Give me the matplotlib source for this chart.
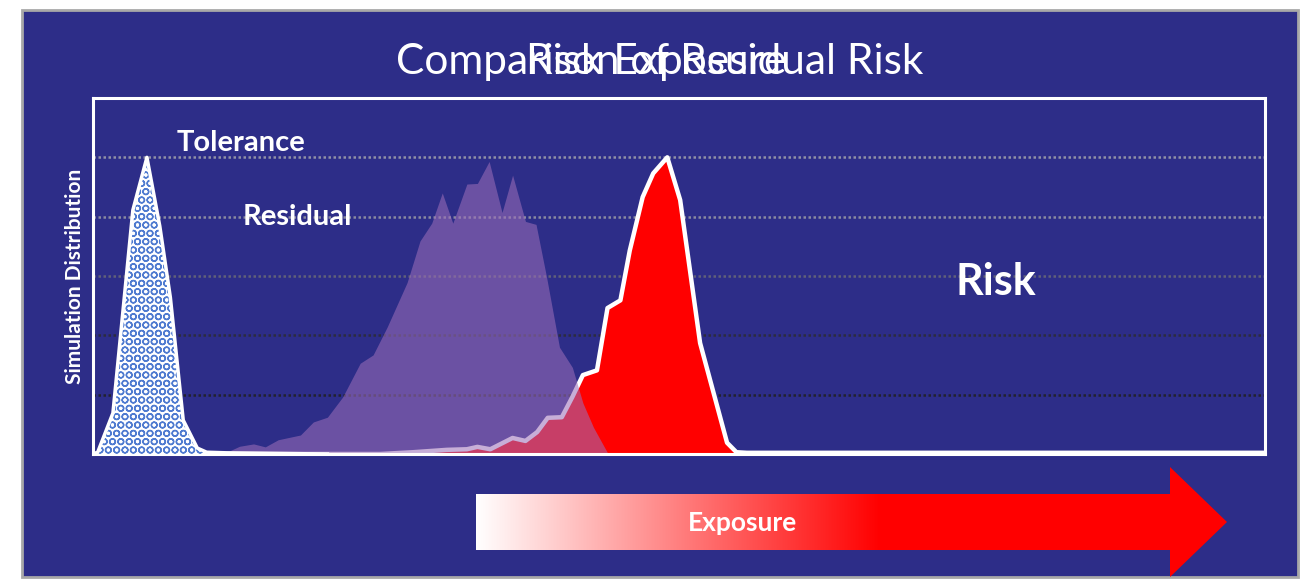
import numpy as np
import matplotlib.pyplot as plt
from matplotlib.patches import Polygon, Rectangle

plt.rcParams['font.family'] = ['Lato', 'DejaVu Sans']
plt.rcParams['hatch.linewidth'] = 1.0

# Rozkłady z symulacji (oś x: ekspozycja 0-100, oś y: liczność)
tol_x = [0.0, 0.4, 1.7, 3.4, 4.6, 5.7, 6.6, 7.7, 8.9, 9.7, 11.4, 20.0]
tol_y = [0.0, 0.03, 0.69, 4.11, 5.0, 3.84, 2.64, 0.57, 0.10, 0.03, 0.02, 0.0]

res_x = [11.4, 12.5, 13.7, 14.7, 15.8, 17.7, 18.8, 20.0, 21.3, 22.8, 23.9, 25.1,
         26.8, 27.9, 28.9, 29.8, 30.7, 31.9, 32.8, 33.8, 34.9, 35.8, 36.9, 37.8,
         38.7, 39.8, 40.9, 41.8, 42.7, 43.9]
res_y = [0.03, 0.13, 0.17, 0.12, 0.24, 0.32, 0.54, 0.62, 0.96, 1.53, 1.67, 2.14,
         2.89, 3.59, 3.89, 4.40, 3.89, 4.55, 4.56, 4.93, 4.07, 4.70, 3.92, 3.87,
         2.98, 1.80, 1.46, 0.86, 0.45, 0.02]

risk_x = [0.0, 24.5, 27.3, 30.2, 31.9, 32.8, 33.9, 34.9, 35.8, 36.9, 37.9, 38.8,
          40.0, 40.9, 41.8, 43.0, 43.9, 45.0, 45.8, 46.9, 47.8, 49.0, 50.1, 51.8,
          54.1, 54.9, 55.8, 100.0]
risk_y = [0.0, 0.0, 0.03, 0.07, 0.08, 0.12, 0.08, 0.18, 0.27, 0.22, 0.37, 0.61,
          0.62, 0.96, 1.33, 1.41, 2.46, 2.59, 3.43, 4.33, 4.73, 5.0, 4.28, 1.87,
          0.19, 0.03, 0.02, 0.02]

grid_levels = [1, 2, 3, 4, 5]
grid_colors = ['#22222e', '#2c2c40', '#60607a', '#8a8aa0', '#9090a6']

navy = '#2d2d88'
W, H = 1307, 579

fig = plt.figure(figsize=(W / 100, H / 100), dpi=100, facecolor='white')

# tło slajdu + strzałka "Exposure" w układzie pikseli
deco = fig.add_axes([0, 0, 1, 1], zorder=0)
deco.add_patch(Rectangle((22, 10), 1276, 567, facecolor=navy, edgecolor='#a8a8a8',
                         lw=2, zorder=0))

arrow = Polygon([(476, 494), (1170, 494), (1170, 467), (1227, 522),
                 (1170, 577), (1170, 550), (476, 550)], closed=True,
                facecolor='none', edgecolor='none')
deco.add_patch(arrow)
xs = np.linspace(476, 1227, 600)
t = np.clip((xs - 476) / (880 - 476), 0, 1)
grad = np.ones((1, len(xs), 3))
grad[0, :, 1] = 1 - t
grad[0, :, 2] = 1 - t
img = deco.imshow(grad, extent=[476, 1227, 578, 467], aspect='auto',
                  interpolation='bilinear', zorder=2)
img.set_clip_path(arrow)
deco.set_xlim(0, W)
deco.set_ylim(H, 0)
deco.axis('off')
deco.text(742, 523, 'Exposure', color='white', fontsize=19, fontweight='bold',
          ha='center', va='center', zorder=3)

deco.text(660, 62, 'Comparison of Residual Risk', color='white', fontsize=30.5,
          ha='center', va='center')
deco.text(656, 62, 'Risk Exposure', color='white', fontsize=30.5,
          ha='center', va='center')

# wykres rozkładów
ax = fig.add_axes([93 / W, 1 - 454 / H, (1265 - 93) / W, (454 - 98) / H], zorder=1)
ax.set_facecolor(navy)
ax.set_xlim(0, 100)
ax.set_ylim(0, 6)
for lvl, c in zip(grid_levels, grid_colors):
    ax.axhline(lvl, color=c, lw=1.8, ls=(0, (1, 1)), zorder=0.5)

ax.fill_between(risk_x, risk_y, color='#ff0000', lw=0, zorder=1)
ax.plot(risk_x, risk_y, color='white', lw=3.2, zorder=1.2, solid_joinstyle='round')
ax.fill_between(res_x, res_y, color=(156 / 255, 111 / 255, 185 / 255), alpha=0.56,
                lw=0, zorder=2)
ax.fill_between(tol_x, tol_y, facecolor='white', edgecolor='#4f7bd0', hatch='OO',
                lw=0, zorder=3)
ax.plot(tol_x, tol_y, color='white', lw=2.5, zorder=3.2)

ax.text(12.6, 5.24, 'Tolerance', color='white', fontsize=21, fontweight='bold',
        ha='center', va='center')
ax.text(17.4, 4.0, 'Residual', color='white', fontsize=21, fontweight='bold',
        ha='center', va='center')
ax.text(77.0, 2.9, 'Risk', color='white', fontsize=31, fontweight='bold',
        ha='center', va='center')

ax.set_ylabel('Simulation Distribution', color='white', fontsize=15,
              fontweight='bold', labelpad=6)
ax.set_xticks([])
ax.set_yticks([])
for s in ax.spines.values():
    s.set_color('white')
    s.set_linewidth(2.2)

fig.savefig('out.png', dpi=100, facecolor='white')
